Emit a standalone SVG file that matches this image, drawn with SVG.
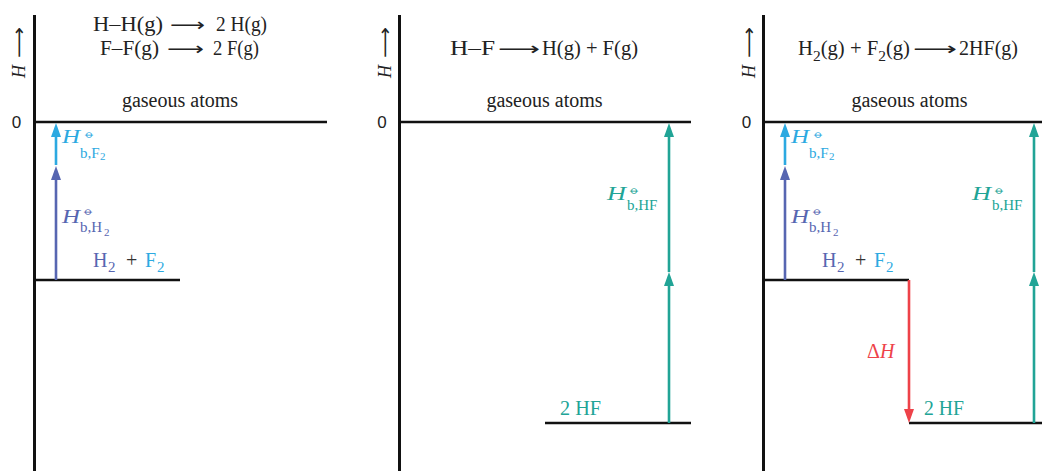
<svg xmlns="http://www.w3.org/2000/svg" width="1042" height="471" viewBox="0 0 1042 471">
<style>
text{font-family:"Liberation Serif","DejaVu Serif",serif;fill:#222}
.eq{font-size:20px}
.arr{font-family:"DejaVu Sans","Noto Sans",sans-serif;font-size:18px}
.it{font-style:italic}
.zero{font-family:"Liberation Sans","DejaVu Sans",sans-serif;font-size:17px;text-anchor:middle}
.ga{font-size:20px;text-anchor:middle}
.axis{stroke:#111;stroke-width:3;fill:none}
.lvl{stroke:#111;stroke-width:2.6;fill:none}
.lbl{font-size:18px}
.hl{font-size:19px;font-style:italic}
.sub{font-size:15px}
.sub2{font-size:11px}
.pl{font-family:"DejaVu Sans","Noto Sans",sans-serif;font-size:13px;text-anchor:middle}
.pur{fill:#5766b1}
.blu{fill:#2ca9e1}
.grn{fill:#21a496}
.red{fill:#ee4249}
.c{stroke-width:2.6;fill:none}
</style>
<defs>
<marker id="mPur" markerUnits="userSpaceOnUse" markerWidth="14" markerHeight="10" viewBox="0 0 14 10" refX="8" refY="5" orient="auto"><path d="M0,0 L14,5 L0,10 z" fill="#5766b1"/></marker>
<marker id="mBlu" markerUnits="userSpaceOnUse" markerWidth="14" markerHeight="10" viewBox="0 0 14 10" refX="8" refY="5" orient="auto"><path d="M0,0 L14,5 L0,10 z" fill="#2ca9e1"/></marker>
<marker id="mGrn" markerUnits="userSpaceOnUse" markerWidth="14" markerHeight="10" viewBox="0 0 14 10" refX="8" refY="5" orient="auto"><path d="M0,0 L14,5 L0,10 z" fill="#21a496"/></marker>
<marker id="mRed" markerUnits="userSpaceOnUse" markerWidth="14" markerHeight="10" viewBox="0 0 14 10" refX="8" refY="5" orient="auto"><path d="M0,0 L14,5 L0,10 z" fill="#ee4249"/></marker>
</defs>

<!-- Panel 1 -->
<g id="panel1">
<line class="axis" x1="34.5" y1="15" x2="34.5" y2="471"/>
<text class="lbl it" transform="translate(25,78) rotate(-90)">H</text>
<text class="arr" transform="translate(25,58) rotate(-90)" textLength="31" lengthAdjust="spacingAndGlyphs">⟶</text>
<text class="zero" x="16.5" y="128">0</text>
<text class="eq" x="93" y="31" textLength="70" lengthAdjust="spacingAndGlyphs">H–H(g)</text>
<text class="arr" x="170" y="31" textLength="35" lengthAdjust="spacingAndGlyphs">⟶</text>
<text class="eq" x="216" y="31" textLength="51" lengthAdjust="spacingAndGlyphs">2 H(g)</text>
<text class="eq" x="100" y="55" textLength="59" lengthAdjust="spacingAndGlyphs">F–F(g)</text>
<text class="arr" x="167" y="55" textLength="37" lengthAdjust="spacingAndGlyphs">⟶</text>
<text class="eq" x="213" y="55" textLength="46" lengthAdjust="spacingAndGlyphs">2 F(g)</text>
</g>
<g id="p1-atoms">
<line class="lvl" x1="34.5" y1="122" x2="327" y2="122"/>
<text class="ga" x="180" y="107">gaseous atoms</text>
</g>
<g id="p1-reactants">
<line class="lvl" x1="34.5" y1="280" x2="180" y2="280"/>
<text class="eq pur" x="93" y="267">H</text>
<text class="sub pur" x="108" y="272">2</text>
<text class="eq" x="126" y="267" style="fill:#333">+</text>
<text class="eq blu" x="145" y="267">F</text>
<text class="sub blu" x="157" y="272">2</text>
</g>
<g id="p1-labels">
<text class="hl blu" x="62" y="143" textLength="18" lengthAdjust="spacingAndGlyphs">H</text>
<text class="pl blu" x="89" y="138">⦵</text>
<text class="sub blu" x="80" y="158">b,F</text>
<text class="sub2 blu" x="100" y="160">2</text>
<text class="hl pur" x="62" y="223" textLength="18" lengthAdjust="spacingAndGlyphs">H</text>
<text class="pl pur" x="88.5" y="215">⦵</text>
<text class="sub pur" x="80" y="232">b,H</text>
<text class="sub2 pur" x="104" y="236">2</text>
</g>

<!-- Panel 2 -->
<g id="panel2">
<line class="axis" x1="399.5" y1="15" x2="399.5" y2="471"/>
<text class="lbl it" transform="translate(391,78) rotate(-90)">H</text>
<text class="arr" transform="translate(391,58) rotate(-90)" textLength="31" lengthAdjust="spacingAndGlyphs">⟶</text>
<text class="zero" x="382" y="128">0</text>
<text class="eq" x="450" y="55" textLength="45" lengthAdjust="spacingAndGlyphs">H–F</text>
<text class="arr" x="498" y="55" textLength="42" lengthAdjust="spacingAndGlyphs">⟶</text>
<text class="eq" x="542" y="55" textLength="96" lengthAdjust="spacingAndGlyphs">H(g) + F(g)</text>
</g>
<g id="p2-atoms">
<line class="lvl" x1="399.5" y1="122" x2="691" y2="122"/>
<text class="ga" x="544.5" y="107">gaseous atoms</text>
</g>
<g id="p2-product">
<line class="lvl" x1="545" y1="423" x2="691" y2="423"/>
<text class="eq grn" x="560" y="415" textLength="41" lengthAdjust="spacingAndGlyphs">2 HF</text>
</g>
<g id="p2-labels">
<text class="hl grn" x="607" y="200" textLength="19" lengthAdjust="spacingAndGlyphs">H</text>
<text class="pl grn" x="634" y="194">⦵</text>
<text class="sub grn" x="627" y="210">b,HF</text>
</g>

<!-- Panel 3 -->
<g id="panel3">
<line class="axis" x1="763.5" y1="15" x2="763.5" y2="471"/>
<text class="lbl it" transform="translate(755,78) rotate(-90)">H</text>
<text class="arr" transform="translate(755,58) rotate(-90)" textLength="31" lengthAdjust="spacingAndGlyphs">⟶</text>
<text class="zero" x="746.5" y="128">0</text>
<text class="eq" x="798" y="55" textLength="112" lengthAdjust="spacingAndGlyphs">H<tspan class="sub" dy="6">2</tspan><tspan dy="-6">(g) + F</tspan><tspan class="sub" dy="6">2</tspan><tspan dy="-6">(g)</tspan></text>
<text class="arr" x="913" y="55" textLength="44" lengthAdjust="spacingAndGlyphs">⟶</text>
<text class="eq" x="959" y="55" textLength="59" lengthAdjust="spacingAndGlyphs">2HF(g)</text>
</g>
<g id="p3-atoms">
<line class="lvl" x1="763.5" y1="122" x2="1042" y2="122"/>
<text class="ga" x="909.5" y="107">gaseous atoms</text>
</g>
<g id="p3-reactants">
<line class="lvl" x1="763.5" y1="280" x2="909" y2="280"/>
<text class="eq pur" x="822" y="267">H</text>
<text class="sub pur" x="837" y="272">2</text>
<text class="eq" x="855" y="267" style="fill:#333">+</text>
<text class="eq blu" x="874" y="267">F</text>
<text class="sub blu" x="886" y="272">2</text>
</g>
<g id="p3-product">
<line class="lvl" x1="909" y1="423" x2="1042" y2="423"/>
<text class="eq grn" x="924" y="415" textLength="40" lengthAdjust="spacingAndGlyphs">2 HF</text>
</g>
<g id="p3-labels">
<text class="hl blu" x="791" y="143" textLength="18" lengthAdjust="spacingAndGlyphs">H</text>
<text class="pl blu" x="818" y="138">⦵</text>
<text class="sub blu" x="809" y="158">b,F</text>
<text class="sub2 blu" x="829" y="160">2</text>
<text class="hl pur" x="791" y="223" textLength="18" lengthAdjust="spacingAndGlyphs">H</text>
<text class="pl pur" x="817.5" y="215">⦵</text>
<text class="sub pur" x="809" y="232">b,H</text>
<text class="sub2 pur" x="833" y="236">2</text>
<text class="hl grn" x="972" y="200" textLength="19" lengthAdjust="spacingAndGlyphs">H</text>
<text class="pl grn" x="999" y="194">⦵</text>
<text class="sub grn" x="992" y="210">b,HF</text>
<text class="eq red" x="867" y="358">Δ<tspan class="it">H</tspan></text>
</g>

<!-- Connectors -->
<g id="connectors">
<line class="c" stroke="#5766b1" x1="56" y1="280" x2="56" y2="172" marker-end="url(#mPur)"/>
<line class="c" stroke="#2ca9e1" x1="56" y1="165" x2="56" y2="129" marker-end="url(#mBlu)"/>
<line class="c" stroke="#21a496" x1="669" y1="423" x2="669" y2="278" marker-end="url(#mGrn)"/>
<line class="c" stroke="#21a496" x1="669" y1="272" x2="669" y2="129" marker-end="url(#mGrn)"/>
<line class="c" stroke="#5766b1" x1="785" y1="280" x2="785" y2="172" marker-end="url(#mPur)"/>
<line class="c" stroke="#2ca9e1" x1="785" y1="165" x2="785" y2="129" marker-end="url(#mBlu)"/>
<line class="c" stroke="#ee4249" x1="909" y1="280" x2="909" y2="417" marker-end="url(#mRed)"/>
<line class="c" stroke="#21a496" x1="1034" y1="423" x2="1034" y2="278" marker-end="url(#mGrn)"/>
<line class="c" stroke="#21a496" x1="1034" y1="272" x2="1034" y2="129" marker-end="url(#mGrn)"/>
</g>
</svg>
